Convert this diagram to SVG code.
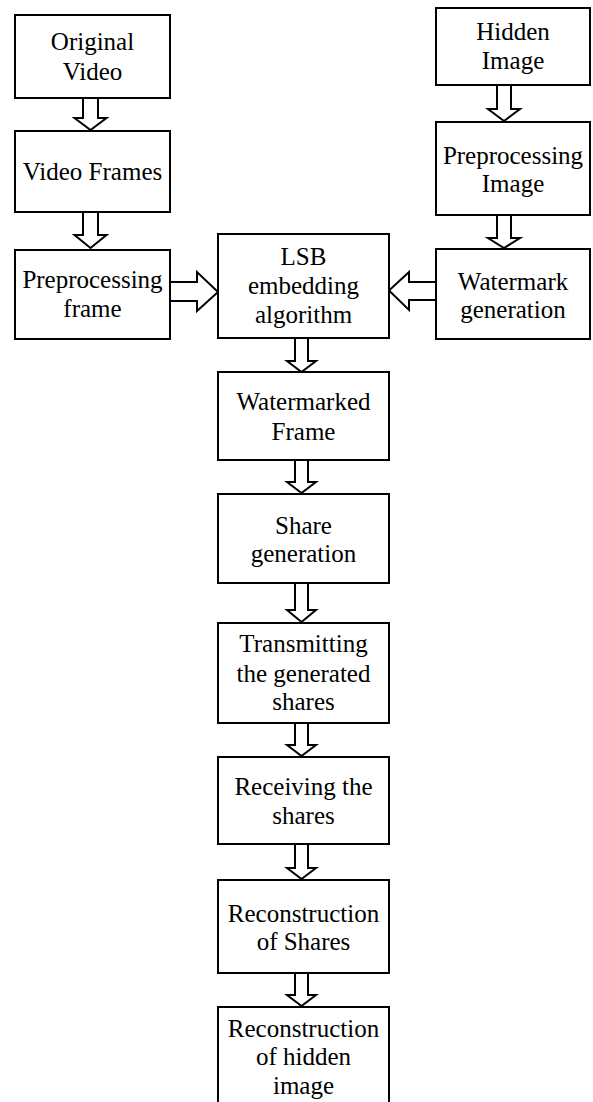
<svg xmlns="http://www.w3.org/2000/svg" width="593" height="1102" viewBox="0 0 593 1102">
<style>
.box{fill:#fff;stroke:#000;stroke-width:2}
.arr{fill:#fff;stroke:#000;stroke-width:2;stroke-linejoin:miter}
.t{font-family:'Liberation Serif','DejaVu Serif',serif;font-size:25px;fill:#000;text-anchor:middle}
</style>
<rect width="593" height="1102" fill="#fff"/>
<g id="connectors">
<polygon class="arr" points="83,98 98,98 98,118 106.5,118 90.5,130 74.5,118 83,118"/>
<polygon class="arr" points="83,212 98,212 98,235 106.5,235 90.5,248 74.5,235 83,235"/>
<polygon class="arr" points="497,85 511,85 511,109 520,109 504,121 488,109 497,109"/>
<polygon class="arr" points="497,215 511,215 511,238 520,238 504,248 488,238 497,238"/>
<polygon class="arr" points="170,282 197,282 197,272 218,292 197,311 197,301 170,301"/>
<polygon class="arr" points="436,282 409,282 409,272 389,290.5 409,310 409,300 436,300"/>
<polygon class="arr" points="295,338 308,338 308,361 316,361 301.5,372 287,361 295,361"/>
<polygon class="arr" points="295,460 308,460 308,482 316,482 301.5,493 287,482 295,482"/>
<polygon class="arr" points="295,583 308,583 308,610 316,610 301.5,622 287,610 295,610"/>
<polygon class="arr" points="295,723 308,723 308,745 316,745 301.5,756 287,745 295,745"/>
<polygon class="arr" points="295,844 308,844 308,868 316,868 301.5,879 287,868 295,868"/>
<polygon class="arr" points="295,973 308,973 308,995 316,995 301.5,1006 287,995 295,995"/>
</g>
<g class="t" font-family="Liberation Serif, DejaVu Serif, serif">
<g id="original-video"><rect class="box" x="15" y="15" width="155" height="83"/><text x="92.5" y="50">Original</text><text x="92.5" y="80">Video</text></g>
<g id="video-frames"><rect class="box" x="15" y="131" width="155" height="81"/><text x="92.5" y="180">Video Frames</text></g>
<g id="preprocessing-frame"><rect class="box" x="15" y="250" width="155" height="89"/><text x="92.5" y="288">Preprocessing</text><text x="92.5" y="317">frame</text></g>
<g id="hidden-image"><rect class="box" x="436" y="8" width="154" height="77"/><text x="513" y="40">Hidden</text><text x="513" y="68.5">Image</text></g>
<g id="preprocessing-image"><rect class="box" x="436" y="122" width="154" height="93"/><text x="513" y="163.5">Preprocessing</text><text x="513" y="192">Image</text></g>
<g id="watermark-generation"><rect class="box" x="436" y="249" width="154" height="90"/><text x="513" y="290">Watermark</text><text x="513" y="318">generation</text></g>
<g id="lsb"><rect class="box" x="218" y="234" width="171" height="104"/><text x="303.5" y="265">LSB</text><text x="303.5" y="294">embedding</text><text x="303.5" y="323">algorithm</text></g>
<g id="watermarked-frame"><rect class="box" x="218" y="372" width="171" height="88"/><text x="303.5" y="410">Watermarked</text><text x="303.5" y="439.5">Frame</text></g>
<g id="share-generation"><rect class="box" x="218" y="494" width="171" height="89"/><text x="303.5" y="533.5">Share</text><text x="303.5" y="562">generation</text></g>
<g id="transmitting"><rect class="box" x="218" y="623" width="171" height="100"/><text x="303.5" y="652">Transmitting</text><text x="303.5" y="681.5">the generated</text><text x="303.5" y="710">shares</text></g>
<g id="receiving"><rect class="box" x="218" y="757" width="171" height="87"/><text x="303.5" y="795">Receiving the</text><text x="303.5" y="823.5">shares</text></g>
<g id="reconstruction-shares"><rect class="box" x="218" y="880" width="171" height="93"/><text x="303.5" y="922">Reconstruction</text><text x="303.5" y="950">of Shares</text></g>
<g id="reconstruction-hidden"><rect class="box" x="218" y="1007" width="171" height="100"/><text x="303.5" y="1037">Reconstruction</text><text x="303.5" y="1065">of hidden</text><text x="303.5" y="1093.5">image</text></g>
</g>
</svg>
